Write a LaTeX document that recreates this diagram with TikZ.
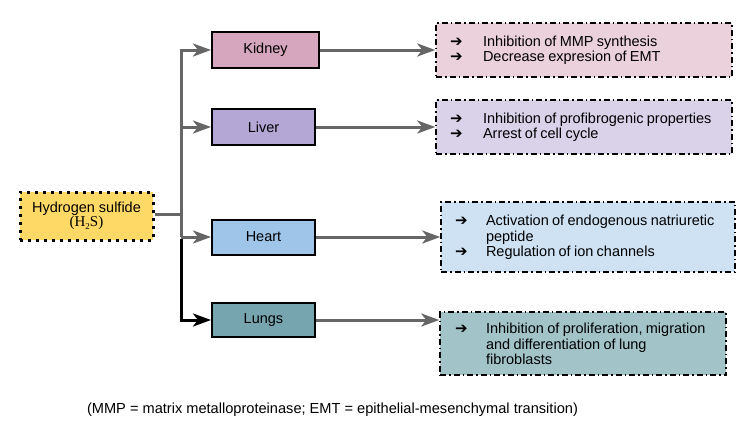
\documentclass[tikz,border=0pt]{standalone}
\usepackage{fontspec}
\setmainfont{Liberation Sans}
\newfontfamily\symfont{DejaVu Sans}
\newfontfamily\serfont{Liberation Serif}
\usetikzlibrary{arrows.meta,positioning}
\definecolor{hsY}{HTML}{FFD966}
\definecolor{kidC}{HTML}{D5A6BD}
\definecolor{kidL}{HTML}{EAD1DC}
\definecolor{livC}{HTML}{B4A7D6}
\definecolor{livL}{HTML}{D9D2E9}
\definecolor{heaC}{HTML}{9FC5E8}
\definecolor{heaL}{HTML}{CFE2F3}
\definecolor{lunC}{HTML}{76A5AF}
\definecolor{lunL}{HTML}{A2C4C9}
\definecolor{conn}{HTML}{666666}
\newcommand{\bulw}[1]{\makebox[#1][l]{\symfont\fontsize{15}{12}\selectfont ➔}}
\tikzset{
  organ/.style={draw=black, line width=2pt, minimum height=36pt, inner sep=0pt, font=\fontsize{14.5}{16}\selectfont},
  outbox/.style={draw=black, line width=1.5pt, dash pattern=on 6pt off 3pt on 1.5pt off 3pt, inner sep=0pt, align=left},
  conline/.style={draw=conn, line width=3pt},
  conarrow/.style={conline, -{Stealth[length=18pt,width=13pt,inset=5pt]}},
}
\begin{document}
\begin{tikzpicture}[x=1pt,y=-1pt]
\useasboundingbox (0,0) rectangle (750,421);
\node[draw=black, fill=hsY, line width=3pt, dash pattern=on 3pt off 5pt, minimum width=133pt, minimum height=48pt, inner sep=0pt, align=center] (hs) at (86.5,216)
  {\fontsize{14.5}{19}\selectfont Hydrogen sulfide\\ {\serfont\fontsize{15}{15}\selectfont (H\raisebox{-0.45ex}{\fontsize{9}{9}\selectfont 2}S)}};
\node[organ, fill=kidC, minimum width=107pt] (kid) at (265.5,50) {Kidney};
\node[organ, fill=livC, minimum width=103pt] (liv) at (263.5,127) {Liver};
\node[organ, fill=heaC, minimum width=103pt, minimum height=35pt] (hea) at (263.5,237) {Heart};
\node[organ, fill=lunC, minimum width=103pt, minimum height=34pt] (lun) at (263.5,320) {Lungs};

\node[outbox, fill=kidL, minimum width=296pt, minimum height=54pt, text width=268pt] (ok) at (584,50)
  {\fontsize{14.5}{13}\selectfont\lineskiplimit=-30pt \bulw{33pt}Inhibition of MMP synthesis\\ \bulw{33pt}Decrease expresion of EMT};
\node[outbox, fill=livL, minimum width=296pt, minimum height=54pt, text width=268pt] (ol) at (584,127)
  {\fontsize{14.5}{13}\selectfont\lineskiplimit=-30pt \bulw{33pt}Inhibition of profibrogenic properties\\ \bulw{33pt}Arrest of cell cycle};
\node[outbox, fill=heaL, minimum width=294pt, minimum height=70pt, text width=266pt] (oh) at (588,237)
  {\fontsize{14.5}{16}\selectfont \bulw{31pt}Activation of endogenous natriuretic\\ \hspace*{31pt}peptide\\ \bulw{31pt}Regulation of ion channels};
\node[outbox, fill=lunL, minimum width=286pt, minimum height=63pt, text width=256pt] (og) at (583,343.5)
  {\fontsize{14.5}{16.7}\selectfont \bulw{31pt}Inhibition of proliferation, migration\\ \hspace*{31pt}and differentiation of lung\\ \hspace*{31pt}fibroblasts};

\node[font=\fontsize{14.6}{16}\selectfont, inner sep=0pt] (note) at (332.5,410) {(MMP = matrix metalloproteinase; EMT = epithelial-mesenchymal transition)};

\coordinate (tk) at (181,50);
\coordinate (tl) at (181,127);
\coordinate (th) at (181,237);
\coordinate (j) at (181,214);
\draw[conline] (hs.east |- j) -- (j);
\draw[conline] (tk) -- (th);
\draw[conarrow] ([xshift=-1.5pt]tk) -- (kid.west);
\draw[conarrow] (tl) -- (liv.west);
\draw[conarrow] (th) -- (hea.west);
\draw[line width=3pt, draw=black, -{Stealth[length=18pt,width=13pt,inset=5pt]}] ([yshift=-1.5pt]th) |- (lun.west);
\draw[conarrow] (kid.east) -- (ok.west);
\draw[conarrow] (liv.east) -- (ol.west);
\draw[conarrow] (hea.east) -- (oh.west);
\draw[conarrow] (lun.east) -- (lun.east -| og.west);
\end{tikzpicture}
\end{document}
